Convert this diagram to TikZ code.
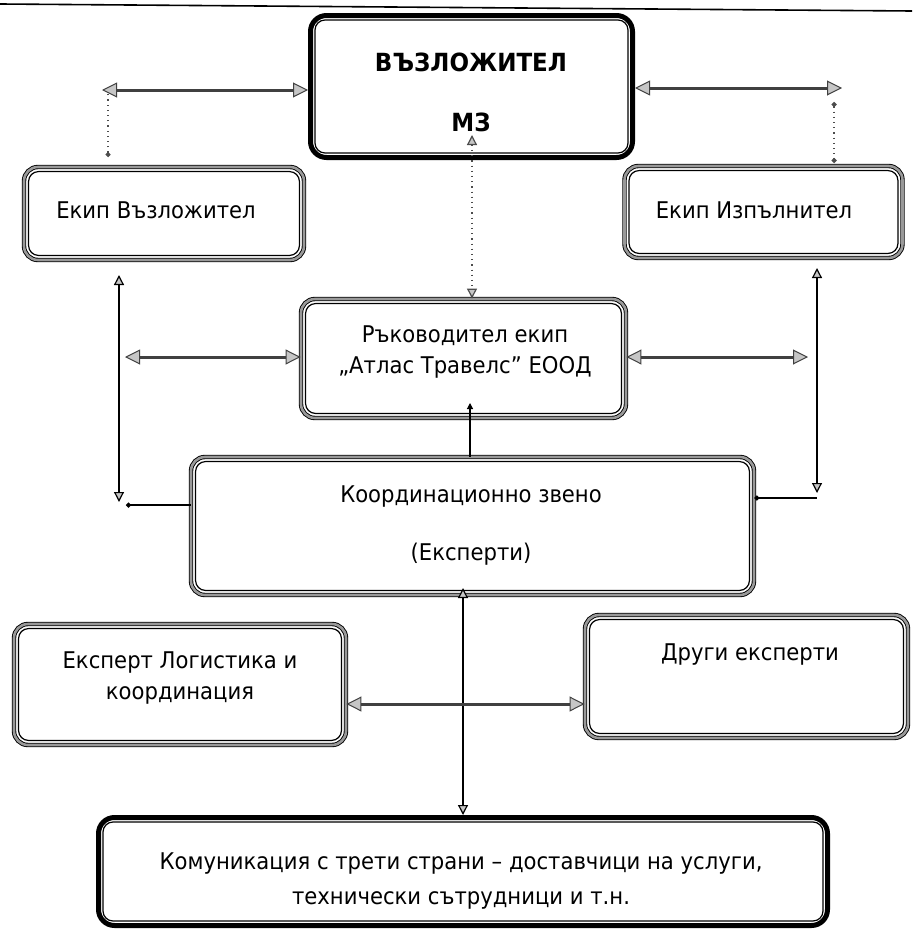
\documentclass[tikz,border=0pt]{standalone}
\usepackage{fontspec}
\setmainfont{DejaVu Sans}[FakeStretch=0.92]
\usetikzlibrary{arrows.meta}

\begin{document}
\begin{tikzpicture}[x=0.5pt, y=-0.5pt,
            box/.style = {draw=black, double=black!40, double distance=1.3pt, line width=0.45pt, rounded corners=7pt, inner sep=0pt},
            heavy/.style = {draw=black, line width=2.5pt, rounded corners=8pt, inner sep=0pt},
            inner/.style = {draw=black, line width=0.6pt, rounded corners=5pt},
            txt/.style = {align=center, inner sep=0pt, font=\fontsize{11.5}{15.5}\selectfont},
            big/.style = {draw=black!75, line width=1.5pt, >={Triangle[length=7.5pt, width=7.5pt, fill=gray!45, line width=0.5pt]}, <->},
            thinarr/.style = {draw=black, line width=0.6pt, >={Triangle[length=5pt, width=5pt, fill=gray!45]}, <->},
            dots/.style = {draw=black!70, line width=0.6pt, dotted}] 
            \useasboundingbox (0,0) rectangle (912,937);
            \draw[line width=0.8pt] (0,4) -- (912,11);

            \node[heavy, minimum width=161pt, minimum height=71pt](boss) at (471.5,86.5){};
            \node[box, minimum width=140pt, minimum height=46.5pt](tA) at (164,213.5){};
            \node[box, minimum width=139pt, minimum height=46pt](tB) at (763.5,212){};
            \node[box, minimum width=162.5pt, minimum height=59.5pt](lead) at (463.5,358.5){};
            \node[box, minimum width=281.5pt, minimum height=69pt](coord) at (472.5,526){};
            \node[box, minimum width=166pt, minimum height=60.5pt](logi) at (180,684.5){};
            \node[box, minimum width=161.5pt, minimum height=61.5pt](other) at (746.5,676.5){};
            \node[heavy, minimum width=364.5pt, minimum height=54pt](comm) at (463,871.5){};

            \foreach \n in {tA,tB,lead,coord,logi,other}
                \draw[inner] ([shift={(2.5pt,-2.5pt)}]\n.north west) rectangle ([shift={(-2.5pt,2.5pt)}]\n.south east);
            \foreach \n in {boss,comm}
                \draw[inner] ([shift={(3.5pt,-3.5pt)}]\n.north west) rectangle ([shift={(-3.5pt,3.5pt)}]\n.south east);

            \node[txt, font=\fontsize{12.5}{15.5}\selectfont\bfseries](bossT) at (471,92){ВЪЗЛОЖИТЕЛ\\[14.5pt]МЗ};
            \node[txt](tAT) at (156,210){Екип Възложител};
            \node[txt](tBT) at (754,210){Екип Изпълнител};
            \node[txt](leadT) at (465,352.5){Ръководител екип\\„Атлас Травелс” ЕООД};
            \node[txt](coordT) at (471,526){Координационно звено\\[13.5pt](Експерти)};
            \node[txt](logiT) at (180,677.5){Експерт Логистика и\\координация};
            \node[txt](otherT) at (750,655){Други експерти};
            \node[txt](commT) at (461,880.5){Комуникация с трети страни – доставчици на услуги,\\[2pt]технически сътрудници и т.н.};

            \coordinate (lc) at (102,90);
            \coordinate (lt) at (108,94);
            \coordinate (lb) at (108,157);
            \coordinate (rc) at (842,88);
            \coordinate (rt) at (834,102);
            \coordinate (rb) at (834,163);
            \coordinate (ct) at (472,135);
            \coordinate (lvt) at (119,275);
            \coordinate (lvb) at (119,502);
            \coordinate (ldot) at (126,505);
            \coordinate (rvt) at (817,268);
            \coordinate (rvb) at (817,493);
            \coordinate (rdot) at (817,498);
            \coordinate (lh) at (125,357);
            \coordinate (rh) at (808,357);
            \coordinate (lct) at (470,403);
            \coordinate (cct) at (463,588);
            \coordinate (mh) at (0,704);

            \draw[big] (lc) -- (lc -| boss.west);
            \draw[big] (rc -| boss.east) -- (rc);
            \draw[dots, {Circle[length=2.5pt]}-] (lb) -- (lt);
            \draw[dots, {Circle[length=2.5pt]}-{Circle[length=2.5pt]}] (rt) -- (rb);
            \draw[dots, thinarr, draw=black!70] (ct) -- (ct |- lead.north);
            \draw[big] (lh) -- (lh -| lead.west);
            \draw[big] (rh -| lead.east) -- (rh);
            \draw[thinarr] (lvt) -- (lvb);
            \draw[thinarr] (rvt) -- (rvb);
            \draw[line width=0.6pt, {Circle[length=2.5pt]}-] (ldot) -- (coord.west |- ldot);
            \draw[line width=0.6pt, {Circle[length=2.5pt]}-] (coord.east |- rdot) -- (rdot);
            \draw[line width=0.6pt, {Triangle[length=3pt, width=3pt]}-] (lct) -- (lct |- coord.north);
            \draw[thinarr] (cct) -- (cct |- comm.north);
            \draw[big] (logi.east |- mh) -- (other.west |- mh);
        \end{tikzpicture}
\end{document}
